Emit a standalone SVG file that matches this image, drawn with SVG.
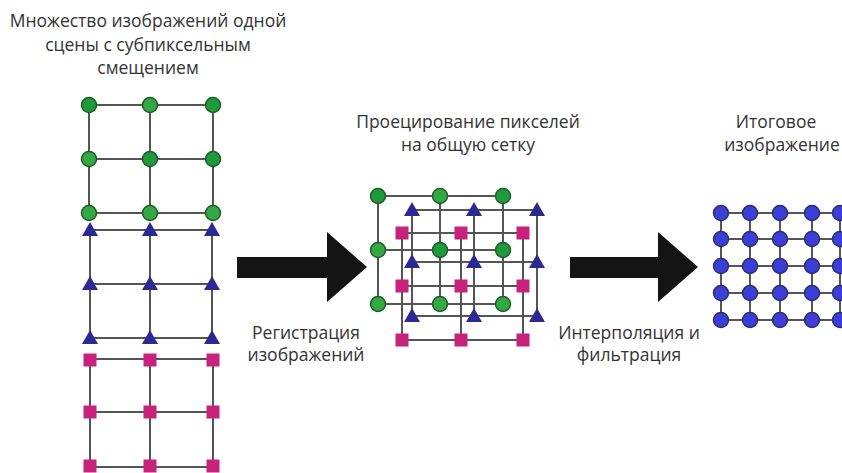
<svg xmlns="http://www.w3.org/2000/svg" width="842" height="473" viewBox="0 0 842 473">
<defs>
<style>
.t{font-family:"Open Sans","Noto Sans",sans-serif;font-size:17.5px;fill:#333;text-anchor:middle}
.ln{stroke:#555;stroke-width:2;fill:none}
.g{fill:#33a845;stroke:#1d5e26;stroke-width:1.5}
.g2{fill:#1f9a3a;stroke:#1d5e26;stroke-width:1.5}
.b{fill:#3b3fd8;stroke:#2b2f70;stroke-width:1.5}
.tr{fill:#2b2a92}
.sq{fill:#c8237c}
.ar{fill:#141414}
</style>
<path id="tri" d="M0,-8 L8,6 L-8,6 Z"/>
<rect id="sqr" x="-6.5" y="-6.5" width="13" height="13"/>
</defs>

<g id="title-left">
<text class="t" x="148" y="27">Множество изображений одной</text>
<text class="t" x="148" y="51">сцены с субпиксельным</text>
<text class="t" x="148" y="74">смещением</text>
</g>
<g id="title-mid">
<text class="t" x="468" y="128">Проецирование пикселей</text>
<text class="t" x="468" y="151">на общую сетку</text>
</g>
<g id="title-right">
<text class="t" x="776" y="128">Итоговое</text>
<text class="t" x="782" y="151">изображение</text>
</g>

<g id="connectors">
<path class="ln" d="M89,105H213M89,159H213M89,213H213M89,105V213M150,105V213M213,105V213"/>
<path class="ln" d="M90,230H212M90,284H212M90,338H212M90,230V338M150,230V338M212,230V338"/>
<path class="ln" d="M90,359H213M90,412H213M90,467H213M90,359V467M150,359V467M213,359V467"/>
<path class="ln" d="M378,196H503M378,250H503M378,304H503M378,196V304M440,196V304M503,196V304"/>
<path class="ln" d="M412,210H537M412,262H537M412,316H537M412,210V316M474,210V316M537,210V316"/>
<path class="ln" d="M402,233H523M402,286H523M402,340H523M402,233V340M461,233V340M523,233V340"/>
<path class="ln" d="M721,213H842M721,239H842M721,266H842M721,293H842M721,320H842M721,213V320M750,213V320M780,213V320M812,213V320M840,213V320"/>
<path class="ar" d="M237,257H327V232L367,267L327,302V278H237Z"/>
<path class="ar" d="M570,257H658V232L698,267L658,302V278H570Z"/>
</g>

<g id="label-reg">
<text class="t" x="306" y="339">Регистрация</text>
<text class="t" x="306" y="361">изображений</text>
</g>
<g id="label-interp">
<text class="t" x="629" y="339">Интерполяция и</text>
<text class="t" x="629" y="361">фильтрация</text>
</g>

<g id="left-green">
<circle class="g2" cx="89" cy="105" r="7.5"/><circle class="g" cx="150" cy="105" r="7.5"/><circle class="g2" cx="213" cy="105" r="7.5"/>
<circle class="g" cx="89" cy="159" r="7.5"/><circle class="g2" cx="150" cy="159" r="7.5"/><circle class="g2" cx="213" cy="159" r="7.5"/>
<circle class="g" cx="89" cy="213" r="7.5"/><circle class="g" cx="150" cy="213" r="7.5"/><circle class="g" cx="213" cy="213" r="7.5"/>
</g>
<g id="left-tri" class="tr">
<use href="#tri" x="90" y="230"/><use href="#tri" x="150" y="230"/><use href="#tri" x="212" y="230"/>
<use href="#tri" x="90" y="284"/><use href="#tri" x="150" y="284"/><use href="#tri" x="212" y="284"/>
<use href="#tri" x="90" y="338"/><use href="#tri" x="150" y="338"/><use href="#tri" x="212" y="338"/>
</g>
<g id="left-sq" class="sq">
<use href="#sqr" x="90" y="360"/><use href="#sqr" x="150" y="360"/><use href="#sqr" x="213" y="360"/>
<use href="#sqr" x="90" y="412"/><use href="#sqr" x="150" y="412"/><use href="#sqr" x="213" y="412"/>
<use href="#sqr" x="90" y="466"/><use href="#sqr" x="150" y="466"/><use href="#sqr" x="213" y="466"/>
</g>

<g id="mid-green">
<circle class="g2" cx="378" cy="196" r="7.5"/><circle class="g" cx="440" cy="196" r="7.5"/><circle class="g2" cx="503" cy="196" r="7.5"/>
<circle class="g" cx="378" cy="250" r="7.5"/><circle class="g2" cx="440" cy="250" r="7.5"/><circle class="g2" cx="503" cy="250" r="7.5"/>
<circle class="g" cx="378" cy="304" r="7.5"/><circle class="g" cx="440" cy="304" r="7.5"/><circle class="g" cx="503" cy="304" r="7.5"/>
</g>
<g id="mid-tri" class="tr">
<use href="#tri" x="412" y="210"/><use href="#tri" x="474" y="210"/><use href="#tri" x="537" y="210"/>
<use href="#tri" x="412" y="262"/><use href="#tri" x="474" y="262"/><use href="#tri" x="537" y="262"/>
<use href="#tri" x="412" y="316"/><use href="#tri" x="474" y="316"/><use href="#tri" x="537" y="316"/>
</g>
<g id="mid-sq" class="sq">
<use href="#sqr" x="402" y="233"/><use href="#sqr" x="461" y="233"/><use href="#sqr" x="523" y="233"/>
<use href="#sqr" x="402" y="286"/><use href="#sqr" x="461" y="286"/><use href="#sqr" x="523" y="286"/>
<use href="#sqr" x="402" y="340"/><use href="#sqr" x="461" y="340"/><use href="#sqr" x="523" y="340"/>
</g>

<g id="right-blue" class="b">
<circle cx="721" cy="213" r="7.5"/><circle cx="750" cy="213" r="7.5"/><circle cx="780" cy="213" r="7.5"/><circle cx="812" cy="213" r="7.5"/><circle cx="840" cy="213" r="7.5"/>
<circle cx="721" cy="239" r="7.5"/><circle cx="750" cy="239" r="7.5"/><circle cx="780" cy="239" r="7.5"/><circle cx="812" cy="239" r="7.5"/><circle cx="840" cy="239" r="7.5"/>
<circle cx="721" cy="266" r="7.5"/><circle cx="750" cy="266" r="7.5"/><circle cx="780" cy="266" r="7.5"/><circle cx="812" cy="266" r="7.5"/><circle cx="840" cy="266" r="7.5"/>
<circle cx="721" cy="293" r="7.5"/><circle cx="750" cy="293" r="7.5"/><circle cx="780" cy="293" r="7.5"/><circle cx="812" cy="293" r="7.5"/><circle cx="840" cy="293" r="7.5"/>
<circle cx="721" cy="320" r="7.5"/><circle cx="750" cy="320" r="7.5"/><circle cx="780" cy="320" r="7.5"/><circle cx="812" cy="320" r="7.5"/><circle cx="840" cy="320" r="7.5"/>
</g>
</svg>
